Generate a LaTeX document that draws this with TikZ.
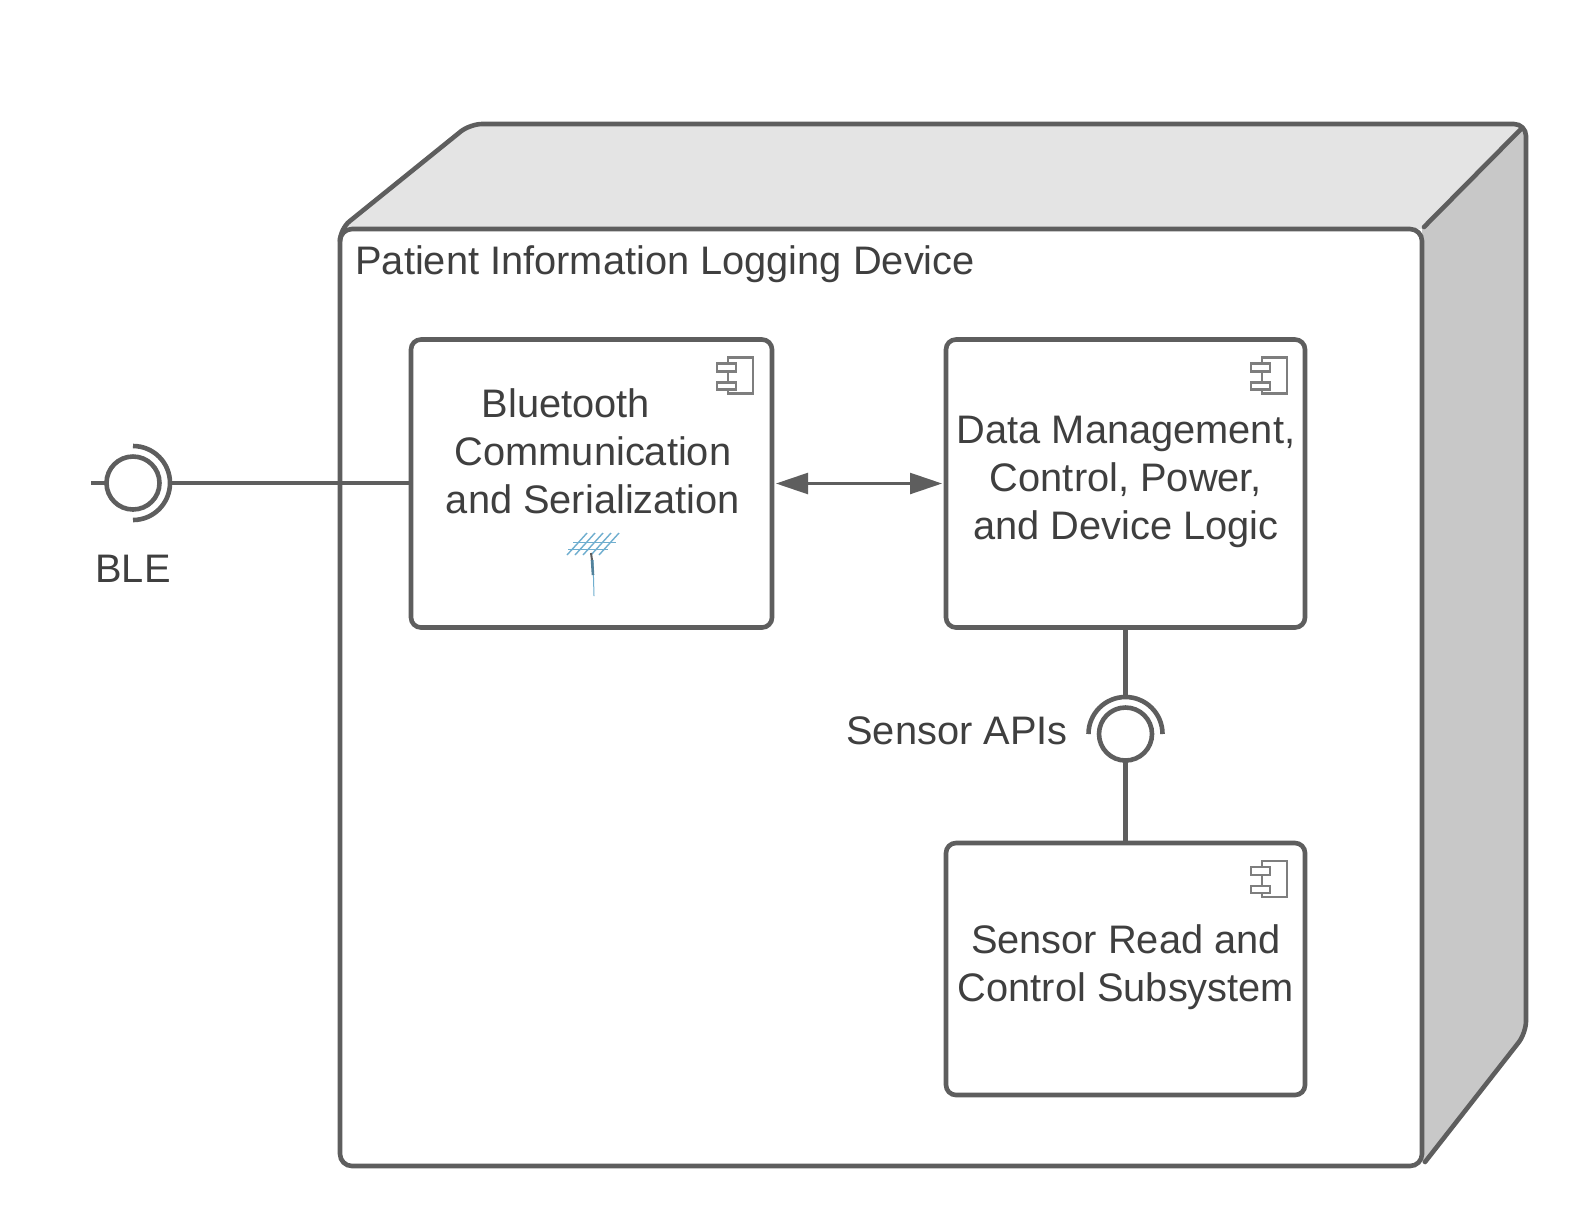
\documentclass[tikz,border=0pt]{standalone}
\usepackage{fontspec}
\setmainfont{Liberation Sans}
\usetikzlibrary{arrows.meta}
\definecolor{umlline}{HTML}{5E5E5E}
\definecolor{umltext}{HTML}{3F3F3F}
\definecolor{umltop}{HTML}{E4E4E4}
\definecolor{umlside}{HTML}{C8C8C8}
\definecolor{antenna}{HTML}{6FAECF}
\tikzset{
  x=0.5pt,y=-0.5pt,
  heavy/.style={draw=umlline,line width=2.3pt},
  compbox/.style={heavy,fill=white,rounded corners=5pt,inner sep=0pt,outer sep=0pt},
  txt/.style={text=umltext,font=\fontsize{19.9}{24}\selectfont,align=center,inner sep=0pt},
  ball/.style={circle,heavy,fill=white,minimum size=26.5pt,inner sep=0pt,outer sep=0pt},
  iconline/.style={draw=umlline!80,line width=1.1pt},
  antline/.style={draw=antenna,line width=0.7pt},
  compicon/.pic={
    \draw[iconline] (-44,24) -- (-44,18) -- (-19,18) -- (-19,54) -- (-44,54) -- (-44,50);
    \draw[iconline] (-44,32) -- (-44,43);
    \draw[iconline] (-55,24) rectangle (-36,32);
    \draw[iconline] (-55,43) rectangle (-36,50);
  }
}
\begin{document}
\begin{tikzpicture}
\useasboundingbox (0,0) rectangle (1572,1222);
% device: top and side faces, clipped to the rounded outline
\begin{scope}
  \clip[rounded corners=6pt] (340,229) -- (470,124) -- (1526,124) -- (1526,1033) -- (1422,1166) -- (340,1166) -- cycle;
  \fill[umltop] (330,229) -- (330,100) -- (1550,100) -- (1422,229) -- cycle;
  \fill[umlside] (1422,229) -- (1550,100) -- (1550,1180) -- (1422,1180) -- cycle;
\end{scope}
\node[compbox,rounded corners=6pt,minimum width=541pt,minimum height=468.5pt] (device) at (881,697.5) {};
\draw[heavy,line join=round,line cap=round,rounded corners=6pt] (340,238) -- (340,229) -- (470,124) -- (1526,124) -- (1526,1033) -- (1425,1162);
\draw[heavy,line cap=round] (1424,227) -- (1522,128);
\node[txt,anchor=west] (devicelabel) at (355,264) {Patient Information Logging Device};
% components
\node[compbox,minimum width=180.5pt,minimum height=144pt] (ble) at (591.5,483.5) {};
\node[compbox,minimum width=179.5pt,minimum height=144pt] (data) at (1125.5,483.5) {};
\node[compbox,minimum width=179.5pt,minimum height=126pt] (sensor) at (1125.5,969) {};
\pic at (ble.north east) {compicon};
\pic at ([xshift=0.5pt]data.north east) {compicon};
\pic at ([xshift=0.5pt]sensor.north east) {compicon};
\node[txt] (bletext) at (593,451) {Bluetooth\hspace*{27pt}\\Communication\\and Serialization};
\node[txt] (datatext) at (1126,482) {Data Management,\\Control, Power,\\and Device Logic};
\node[txt] (sensortext) at (1126,967) {Sensor Read and\\Control Subsystem};
% antenna
\foreach \i in {0,1,2,3,4}{
  \draw[antline] (567+\i*8,555) -- (587+\i*8,533);
}
\draw[antline,line width=0.45pt] (573,542) -- (616,542);
\draw[antline,line width=0.45pt] (568,549) -- (608,549);
\draw[antline,line width=0.5pt] (593,560) -- (594,596);
\draw[draw=umlline,line width=1pt] (591,553) -- (592,560);
\draw[draw=antenna!75!black,line width=1.3pt] (592,560) -- (593,575);
% BLE interface
\node[ball] (bleball) at (133,483) {};
\coordinate (blefree) at (91,483);
\coordinate (blesock) at (170,483);
\draw[heavy] (133,446) arc[start angle=90,end angle=-90,radius=18.5pt];
\draw[heavy] (blefree) -- (bleball);
\draw[heavy] (blesock) -- (blesock -| ble.west);
\node[txt] (blelabel) at (133,569) {BLE};
% data link
\draw[draw=umlline,line width=1.2pt,{Triangle[length=16pt,width=10.5pt]}-{Triangle[length=16pt,width=10.5pt]},shorten <=2pt,shorten >=2pt] (ble) -- (data);
% sensor interface
\node[ball] (sensorball) at (1125.5,734) {};
\coordinate (sensorsock) at (1125.5,697);
\draw[heavy] (1088.5,734) arc[start angle=180,end angle=0,radius=18.5pt];
\draw[heavy] (data.south) -- (sensorsock);
\draw[heavy] (sensorball) -- (sensor.north);
\node[txt,anchor=east] (sensorlabel) at (1068,731) {Sensor APIs};
\end{tikzpicture}
\end{document}
